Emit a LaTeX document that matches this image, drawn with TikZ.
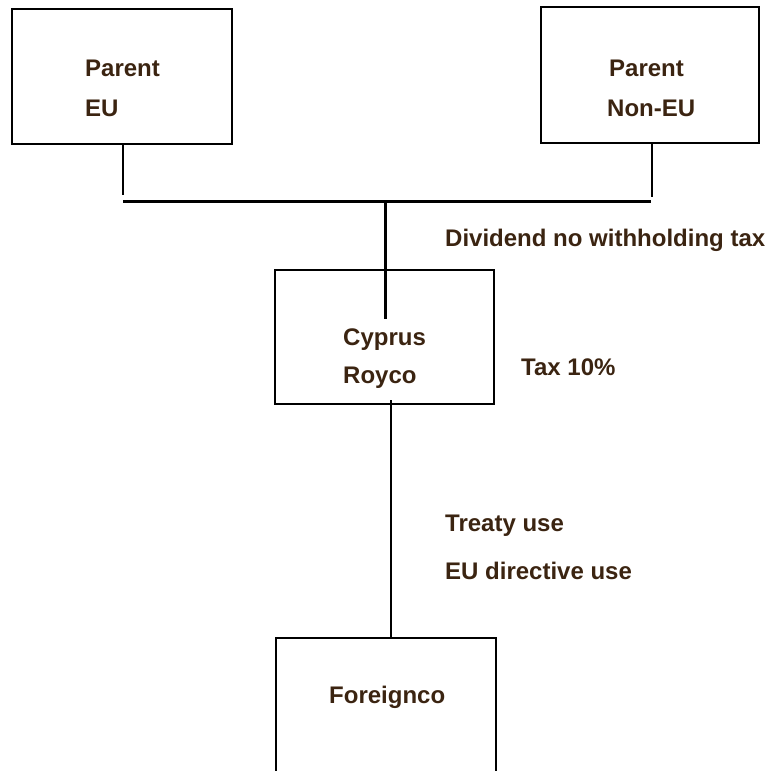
\documentclass[tikz,border=0pt]{standalone}
\usepackage{fontspec}
\setmainfont{Liberation Sans}
\definecolor{txtbrown}{RGB}{59,36,17}
\begin{document}
\begin{tikzpicture}[x=1pt,y=1pt,
  box/.style={draw=black, line width=1.5pt, inner sep=0pt, outer sep=0pt},
  lbl/.style={anchor=base west, inner sep=0pt, text=txtbrown,
    font=\fontsize{24}{28}\selectfont\bfseries},
  thin/.style={line width=1.6pt, draw=black},
  mid/.style={line width=2pt, draw=black},
  thick/.style={line width=3pt, draw=black}]
\useasboundingbox (0,0) rectangle (769,-771);
\clip (0,0) rectangle (769,-771);
% boxes
\node[box, minimum width=220pt, minimum height=135pt] (eu) at (122,-76.5) {};
\node[box, minimum width=218pt, minimum height=136pt] (noneu) at (650,-75) {};
\node[box, minimum width=219pt, minimum height=134pt] (cy) at (384.5,-337) {};
\node[box, minimum width=220pt, minimum height=170pt] (fo) at (386,-723) {};
% texts
\node[lbl] (t1) at (85,-76) {Parent};
\node[lbl] (t2) at (85,-116) {EU};
\node[lbl] (t3) at (609,-76) {Parent};
\node[lbl] (t4) at (607,-116) {Non-EU};
\node[lbl] (t5) at (445,-246) {Dividend no withholding tax};
\node[lbl] (t6) at (343,-345) {Cyprus};
\node[lbl] (t7) at (343,-383) {Royco};
\node[lbl] (t8) at (521,-375) {Tax 10\%};
\node[lbl] (t9) at (445,-531) {Treaty use};
\node[lbl] (t10) at (445,-579) {EU directive use};
\node[lbl] (t11) at (329,-703) {Foreignco};
% connector coordinates
\coordinate (euEnd) at (123,-195);
\coordinate (neEnd) at (652,-197);
\coordinate (barL) at (123,-201);
\coordinate (barR) at (651,-201);
\coordinate (barM) at (385,-201);
\coordinate (cyEnd) at (385,-319);
\coordinate (cyBot) at (391,-400);
% connectors
\draw[mid] (eu.south -| euEnd) -- (euEnd);
\draw[mid] (noneu.south -| neEnd) -- (neEnd);
\draw[thick] (barL) -- (barR);
\draw[thick] (barM) -- (cyEnd);
\draw[thin] (cyBot) -- (fo.north -| cyBot);
\end{tikzpicture}
\end{document}
